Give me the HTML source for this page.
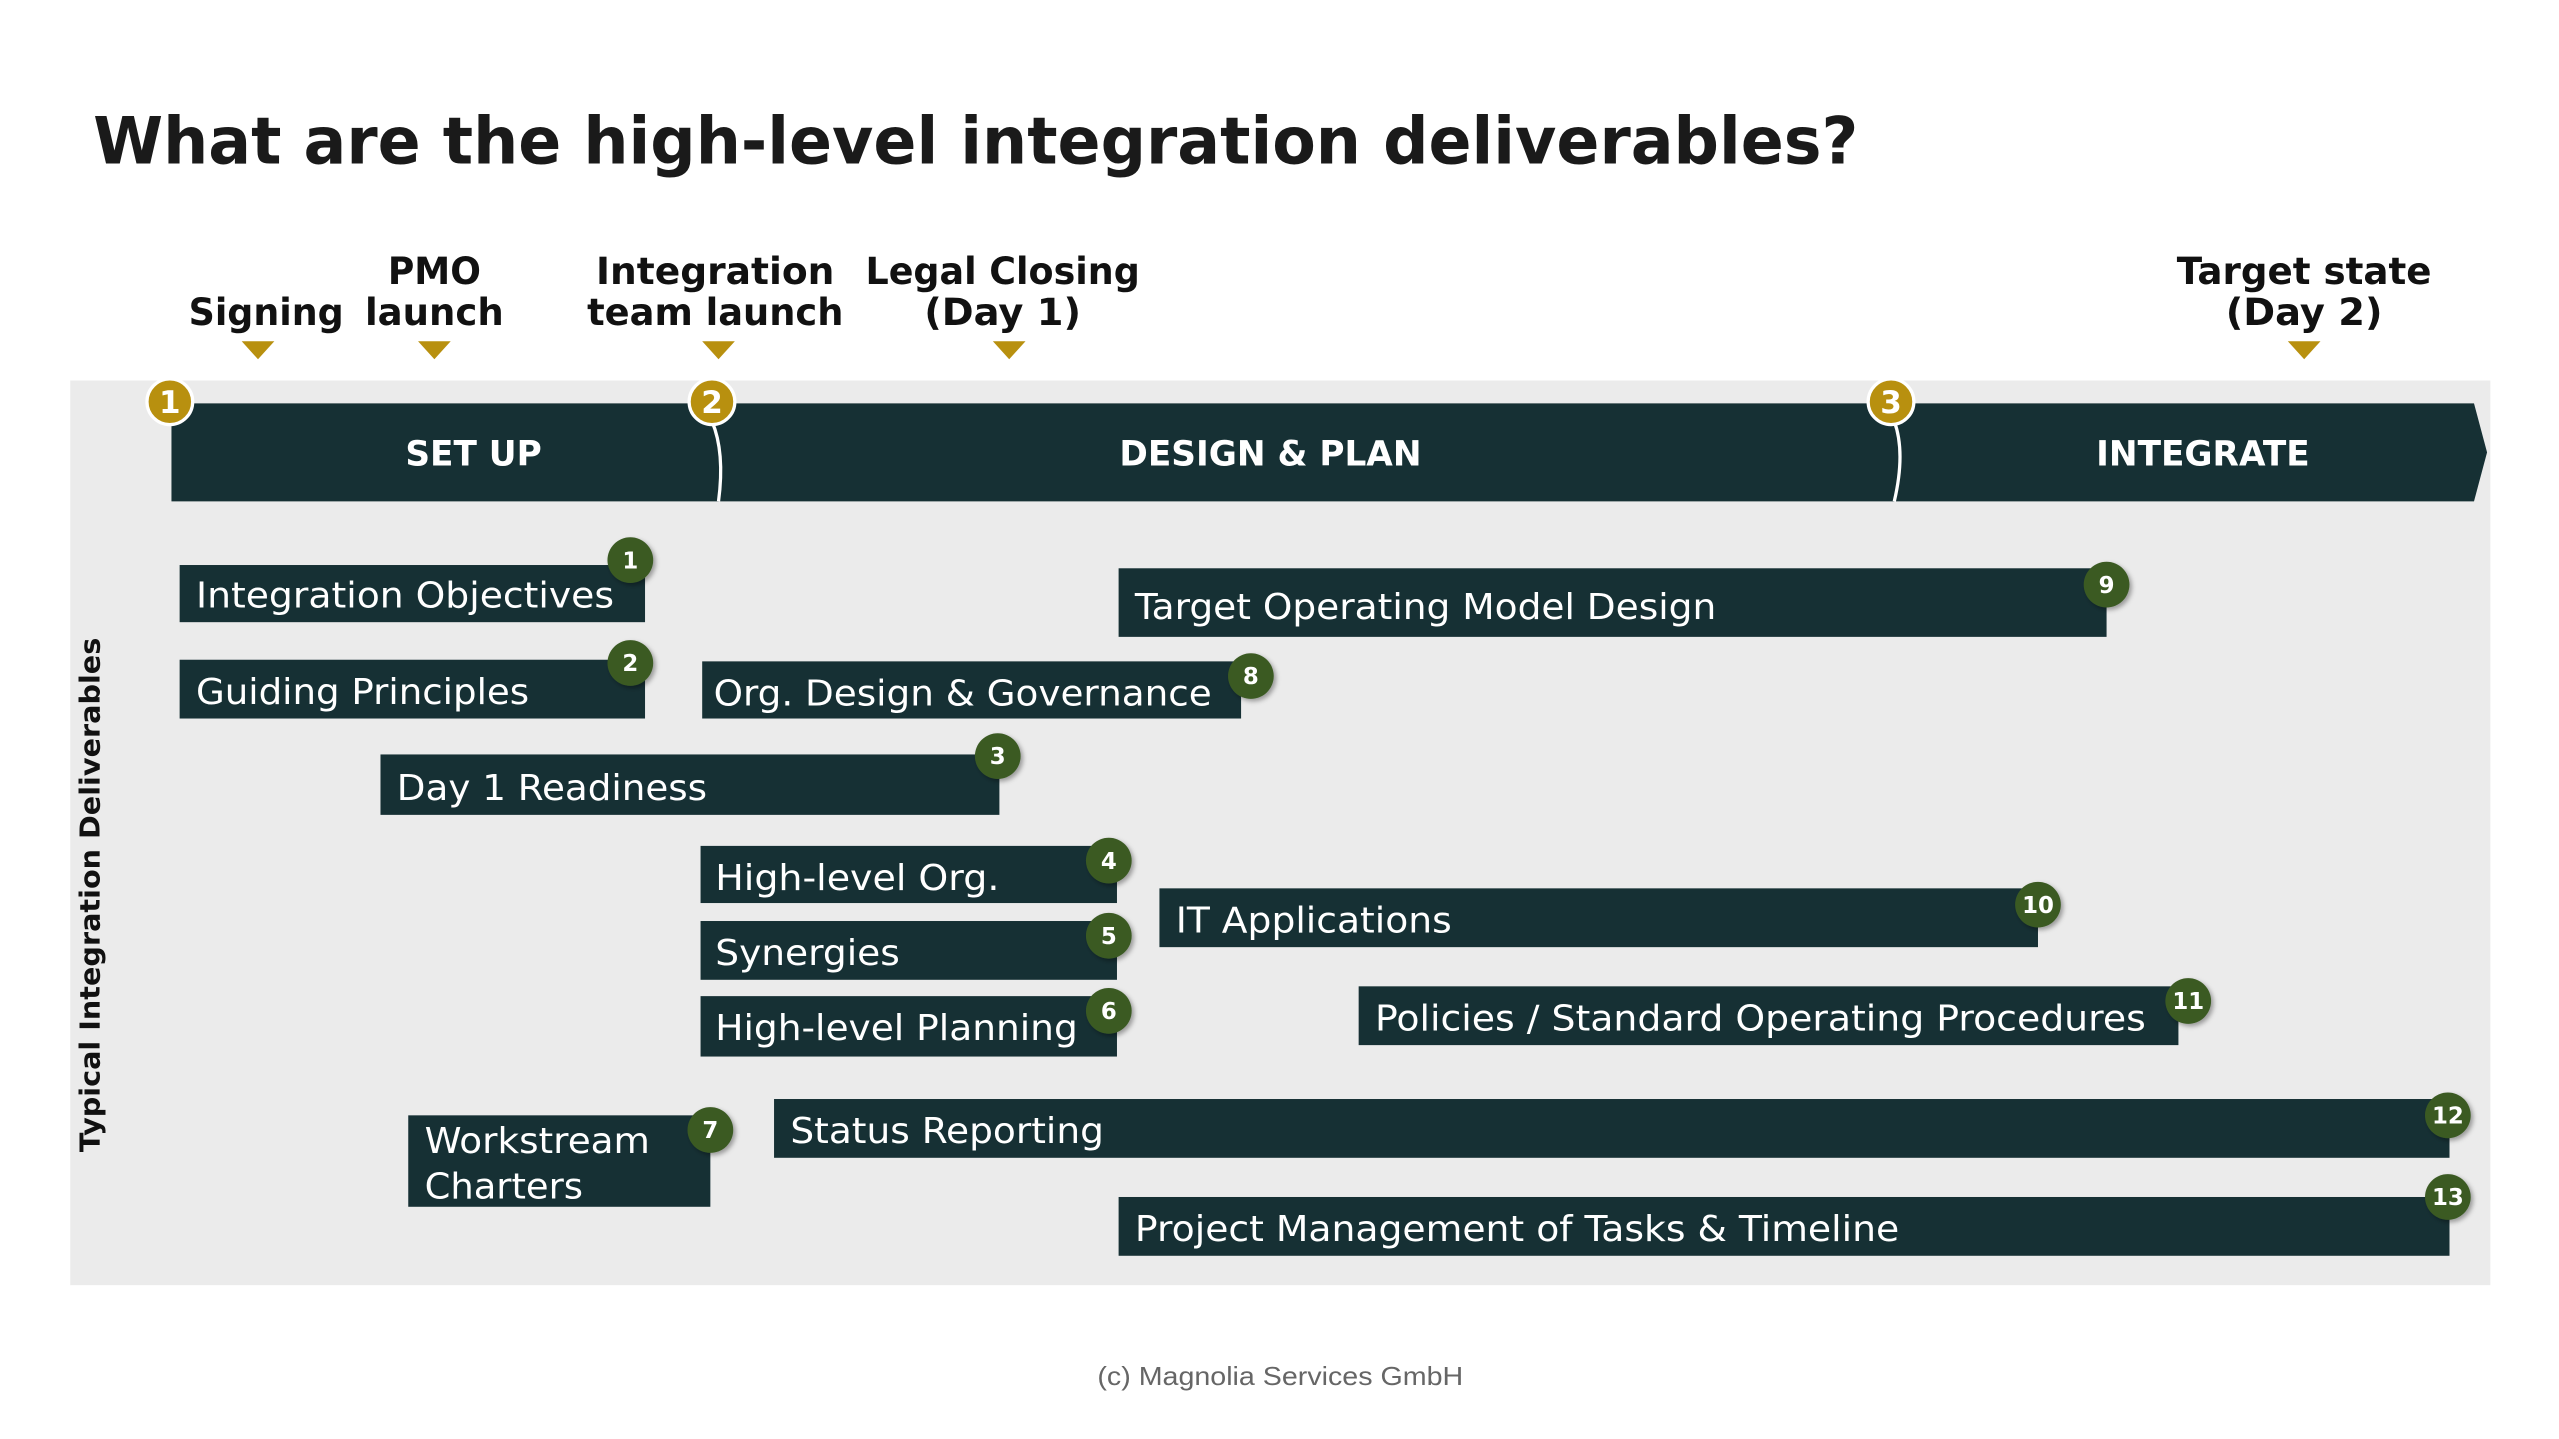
<!DOCTYPE html>
<html><head><meta charset="utf-8"><style>
html,body{margin:0;padding:0;background:#fff;}
svg{display:block;}
text{font-family:"DejaVu Sans","Liberation Sans",sans-serif;}
.ms{font-weight:bold;font-size:23px;fill:#111;text-anchor:middle;}
.ph{font-weight:bold;font-size:21px;fill:#fff;text-anchor:middle;}
.dl{font-size:22px;fill:#fff;}
.bn{font-weight:bold;font-size:14px;fill:#fff;text-anchor:middle;}
.gn{font-weight:bold;font-size:19px;fill:#fff;text-anchor:middle;}
</style></head><body>
<svg width="2559" height="1439" viewBox="0 0 2559 1439" xmlns="http://www.w3.org/2000/svg">
<defs>
<filter id="sh" x="-50%" y="-50%" width="200%" height="200%"><feDropShadow dx="1.5" dy="1.5" stdDeviation="1.5" flood-color="#000" flood-opacity="0.35"/></filter>
</defs>
<g transform="scale(1.633)">
<text x="57" y="100" font-weight="bold" font-size="40" fill="#1a1a1a" textLength="1081" lengthAdjust="spacingAndGlyphs">What are the high-level integration deliverables?</text>

<text class="ms" x="163" y="199" textLength="95" lengthAdjust="spacingAndGlyphs">Signing</text>
<text class="ms" x="266" y="174" textLength="57" lengthAdjust="spacingAndGlyphs">PMO</text>
<text class="ms" x="266" y="199" textLength="85" lengthAdjust="spacingAndGlyphs">launch</text>
<text class="ms" x="438" y="174" textLength="146" lengthAdjust="spacingAndGlyphs">Integration</text>
<text class="ms" x="438" y="199" textLength="157" lengthAdjust="spacingAndGlyphs">team launch</text>
<text class="ms" x="614" y="174" textLength="168" lengthAdjust="spacingAndGlyphs">Legal Closing</text>
<text class="ms" x="614" y="199" textLength="96" lengthAdjust="spacingAndGlyphs">(Day 1)</text>
<text class="ms" x="1411" y="174" textLength="156" lengthAdjust="spacingAndGlyphs">Target state</text>
<text class="ms" x="1411" y="199" textLength="96" lengthAdjust="spacingAndGlyphs">(Day 2)</text>
<g fill="#b8900f">
<polygon points="148,209 168,209 158,220"/>
<polygon points="256,209 276,209 266,220"/>
<polygon points="430,209 450,209 440,220"/>
<polygon points="608,209 628,209 618,220"/>
<polygon points="1401,209 1421,209 1411,220"/>
</g>

<rect x="43" y="233" width="1482" height="554" fill="#ebebeb"/>

<polygon points="105,247 1515,247 1523,277 1515,307 105,307" fill="#163034"/>
<path d="M436,258 Q444,277 440,307" stroke="#fff" stroke-width="2" fill="none"/>
<path d="M1160,258 Q1167,277 1160,307" stroke="#fff" stroke-width="2" fill="none"/>
<text class="ph" x="290" y="285">SET UP</text>
<text class="ph" x="778" y="285">DESIGN &amp; PLAN</text>
<text class="ph" x="1349" y="285">INTEGRATE</text>
<g stroke="#fff" stroke-width="2" fill="#b8900f">
<circle cx="104" cy="246" r="14"/><circle cx="436" cy="246" r="14"/><circle cx="1158" cy="246" r="14"/>
</g>
<text class="gn" x="104" y="253">1</text>
<text class="gn" x="436" y="253">2</text>
<text class="gn" x="1158" y="253">3</text>

<g fill="#163034">
<rect x="110" y="346" width="285" height="35"/>
<rect x="110" y="404" width="285" height="36"/>
<rect x="233" y="462" width="379" height="37"/>
<rect x="429" y="518" width="255" height="35"/>
<rect x="429" y="564" width="255" height="36"/>
<rect x="429" y="610" width="255" height="37"/>
<rect x="250" y="683" width="185" height="56"/>
<rect x="430" y="405" width="330" height="35"/>
<rect x="685" y="348" width="605" height="42"/>
<rect x="710" y="544" width="538" height="36"/>
<rect x="832" y="604" width="502" height="36"/>
<rect x="474" y="673" width="1026" height="36"/>
<rect x="685" y="733" width="815" height="36"/>
</g>
<text class="dl" x="120" y="372" textLength="256" lengthAdjust="spacingAndGlyphs">Integration Objectives</text>
<text class="dl" x="120" y="431" textLength="204" lengthAdjust="spacingAndGlyphs">Guiding Principles</text>
<text class="dl" x="243" y="490" textLength="190" lengthAdjust="spacingAndGlyphs">Day 1 Readiness</text>
<text class="dl" x="438" y="545" textLength="174" lengthAdjust="spacingAndGlyphs">High-level Org.</text>
<text class="dl" x="438" y="591" textLength="113" lengthAdjust="spacingAndGlyphs">Synergies</text>
<text class="dl" x="438" y="637" textLength="222" lengthAdjust="spacingAndGlyphs">High-level Planning</text>
<text class="dl" x="260" y="706" textLength="138" lengthAdjust="spacingAndGlyphs">Workstream</text>
<text class="dl" x="260" y="734" textLength="97" lengthAdjust="spacingAndGlyphs">Charters</text>
<text class="dl" x="437" y="432" textLength="305" lengthAdjust="spacingAndGlyphs">Org. Design &amp; Governance</text>
<text class="dl" x="695" y="379" textLength="356" lengthAdjust="spacingAndGlyphs">Target Operating Model Design</text>
<text class="dl" x="720" y="571" textLength="169" lengthAdjust="spacingAndGlyphs">IT Applications</text>
<text class="dl" x="842" y="631" textLength="472" lengthAdjust="spacingAndGlyphs">Policies / Standard Operating Procedures</text>
<text class="dl" x="484" y="700" textLength="192" lengthAdjust="spacingAndGlyphs">Status Reporting</text>
<text class="dl" x="695" y="760" textLength="468" lengthAdjust="spacingAndGlyphs">Project Management of Tasks &amp; Timeline</text>

<g fill="#3a5a24" filter="url(#sh)">
<circle cx="386" cy="343" r="14"/><circle cx="386" cy="406" r="14"/><circle cx="611" cy="463" r="14"/>
<circle cx="679" cy="527" r="14"/><circle cx="679" cy="573" r="14"/><circle cx="679" cy="619" r="14"/>
<circle cx="435" cy="692" r="14"/><circle cx="766" cy="414" r="14"/><circle cx="1290" cy="358" r="14"/>
<circle cx="1248" cy="554" r="14"/><circle cx="1340" cy="613" r="14"/><circle cx="1499" cy="683" r="14"/>
<circle cx="1499" cy="733" r="14"/>
</g>
<text class="bn" x="386" y="348">1</text><text class="bn" x="386" y="411">2</text><text class="bn" x="611" y="468">3</text>
<text class="bn" x="679" y="532">4</text><text class="bn" x="679" y="578">5</text><text class="bn" x="679" y="624">6</text>
<text class="bn" x="435" y="697">7</text><text class="bn" x="766" y="419">8</text><text class="bn" x="1290" y="363">9</text>
<text class="bn" x="1248" y="559" font-size="12">10</text><text class="bn" x="1340" y="618" font-size="12">11</text>
<text class="bn" x="1499" y="688" font-size="12">12</text><text class="bn" x="1499" y="738" font-size="12">13</text>

<text x="0" y="0" transform="translate(61,548) rotate(-90)" text-anchor="middle" font-weight="bold" font-size="17" fill="#111" textLength="315" lengthAdjust="spacingAndGlyphs">Typical Integration Deliverables</text>

<text x="784" y="848" text-anchor="middle" font-size="16" fill="#666" style="font-family:'Liberation Sans',sans-serif" textLength="224" lengthAdjust="spacingAndGlyphs">(c) Magnolia Services GmbH</text>
</g>
</svg>
</body></html>
